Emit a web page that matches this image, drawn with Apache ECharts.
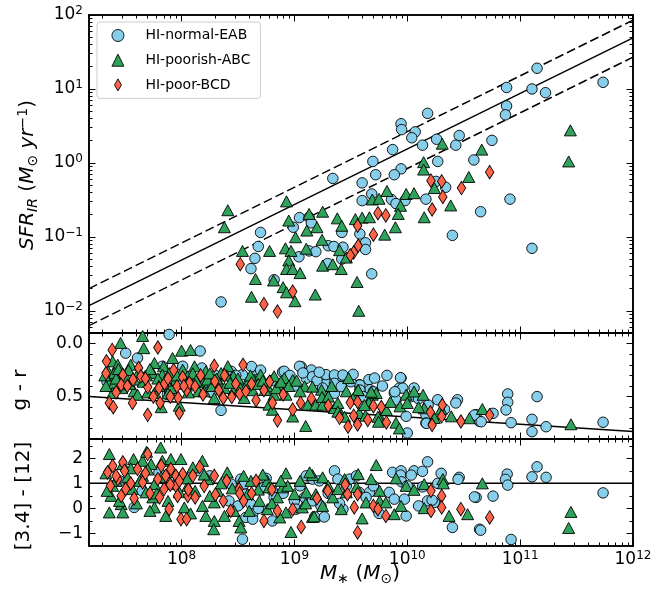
<!DOCTYPE html>
<html><head><meta charset="utf-8">
<script src="https://cdn.jsdelivr.net/npm/echarts@6/dist/echarts.min.js"></script>
<style>html,body{margin:0;padding:0;background:#fff}#c{width:664px;height:598px}</style>
</head><body><div id="c"></div>
<script>
// ---------- data (log10 stellar mass, value) ----------
const sfrNormal = [[8.35,-1.88],[8.70,-0.94],[8.68,-1.13],[8.65,-1.29],[8.615,-1.43],[8.82,-1.58],[8.99,-0.87],[9.045,-0.74],[9.13,-0.735],[9.15,-0.81],[9.04,-1.27],[9.13,-1.19],[9.19,-1.20],[9.30,-1.12],[9.295,-1.36],[9.35,-1.13],[9.43,-1.14],[9.42,-0.94],[9.42,-1.30],[9.58,-0.96],[9.63,-1.08],[9.63,-1.17],[9.685,-1.50],[9.34,-0.21],[9.695,0.02],[9.72,-0.16],[9.60,-0.27],[9.87,0.18],[9.945,-0.08],[9.885,-0.16],[9.685,-0.42],[9.60,-0.51],[9.86,-0.495],[9.98,-0.51],[10.165,-0.49],[9.90,-0.55],[10.18,0.67],[9.945,0.53],[9.95,0.45],[10.07,0.42],[10.04,0.34],[10.135,0.24],[10.26,0.32],[10.46,0.37],[10.43,0.24],[10.75,0.305],[10.59,0.04],[10.27,0.02],[10.255,-0.25],[10.34,-0.33],[10.65,-0.66],[10.40,-0.98],[10.91,-0.49],[10.88,0.77],[10.87,0.65],[10.88,1.02],[11.15,1.28],[11.105,1.00],[11.225,0.95],[11.735,1.09],[11.105,-1.155]];
const sfrPoorish = [[8.41,-0.64],[8.38,-0.87],[8.93,-0.52],[9.25,-0.66],[9.13,-0.69],[8.95,-0.78],[9.11,-0.915],[9.20,-0.87],[9.38,-0.75],[9.42,-0.85],[9.54,-0.76],[9.60,-0.74],[9.665,-0.735],[9.69,-0.495],[9.75,-0.485],[9.82,-0.38],[9.99,-0.42],[10.06,-0.41],[9.94,-0.58],[9.92,-0.69],[9.895,-0.87],[9.80,-0.97],[10.15,-0.735],[10.145,0.01],[10.145,-0.09],[9.01,-1.005],[8.92,-1.155],[8.97,-1.19],[9.105,-1.16],[9.245,-1.04],[9.40,-1.18],[9.46,-1.28],[8.54,-1.19],[8.78,-1.19],[8.95,-1.32],[8.93,-1.435],[8.985,-1.435],[9.05,-1.49],[9.25,-1.39],[9.34,-1.37],[9.415,-1.435],[8.655,-1.57],[8.815,-1.59],[8.90,-1.68],[8.93,-1.75],[9.005,-1.87],[9.185,-1.78],[8.62,-1.81],[9.555,-1.61],[9.57,-2.0],[10.31,0.26],[10.66,0.18],[10.545,-0.19],[10.24,-0.34],[10.385,-0.575],[11.445,0.44],[11.43,0.02]];
const sfrPoor = [[8.52,-1.37],[8.73,-1.91],[8.85,-2.01],[8.985,-1.74],[9.56,-0.85],[9.565,-1.12],[9.525,-1.21],[9.495,-1.25],[9.74,-0.68],[9.81,-0.71],[9.70,-0.97],[10.73,-0.125],[10.21,-0.24],[10.305,-0.25],[10.48,-0.34],[10.315,-0.46],[10.22,-0.63]];

const grNormal = [[7.505,0.09],[8.165,0.07],[7.89,-0.086],[7.61,0.136],[7.375,0.41],[8.35,0.63],[7.875,0.48],[8.62,0.216],[8.895,0.268],[9.06,0.218],[9.15,0.249],[9.105,0.327],[9.16,0.312],[9.28,0.375],[7.895,0.466],[8.25,0.42],[7.83,0.214],[8.54,0.293],[8.675,0.293],[8.265,0.461],[8.01,0.214],[8.91,0.261],[9.045,0.214],[9.075,0.277],[9.28,0.293],[9.355,0.308],[9.415,0.308],[9.405,0.403],[9.34,0.46],[9.575,0.388],[9.66,0.34],[9.71,0.325],[9.67,0.435],[9.945,0.325],[9.885,0.466],[9.93,0.419],[10.06,0.419],[9.99,0.686],[10.0,0.843],[10.165,0.67],[10.165,0.749],[10.27,0.53],[10.445,0.53],[10.43,0.56],[10.61,0.67],[10.64,0.733],[9.355,0.296],[9.355,0.375],[9.355,0.469],[9.43,0.296],[9.415,0.406],[9.58,0.391],[9.58,0.438],[9.61,0.50],[9.70,0.454],[9.90,0.532],[9.96,0.42],[10.035,0.50],[10.17,0.752],[10.185,0.579],[10.595,0.674],[10.655,0.737],[10.76,0.658],[10.89,0.475],[10.89,0.554],[10.875,0.626],[10.92,0.746],[11.105,0.714],[11.105,0.831],[11.23,0.784],[11.15,0.50],[11.735,0.742],[9.89,0.454],[9.94,0.322],[8.44,0.261],[8.675,0.34],
  [7.34,0.36],[7.45,0.28],[7.70,0.30],[7.98,0.36],[8.08,0.40],[8.18,0.23],[8.30,0.30],[8.48,0.30],[8.58,0.40],[8.70,0.25],[8.80,0.35],[8.96,0.30],[9.0,0.40],[9.20,0.35],[9.25,0.42],[9.50,0.36],[9.78,0.40],[9.82,0.30],[10.10,0.52],[10.33,0.62],[9.52,0.29],[9.22,0.27]];
const grPoorish = [[7.46,-0.006],[7.655,-0.072],[7.665,0.043],[8.0,0.067],[8.08,0.06],[7.92,0.136],[7.84,0.214],[7.39,0.167],[7.435,0.199],[7.55,0.199],[7.76,0.183],[8.115,0.214],[8.215,0.261],[8.41,0.213],[8.35,0.277],[8.46,0.308],[8.82,0.308],[7.35,0.261],[7.405,0.277],[7.36,0.372],[7.405,0.372],[7.58,0.34],[7.505,0.308],[7.745,0.277],[7.83,0.293],[7.89,0.277],[7.935,0.372],[8.01,0.246],[8.185,0.365],[8.23,0.34],[8.335,0.372],[8.055,0.308],[8.38,0.419],[8.585,0.372],[8.645,0.34],[8.70,0.293],[8.76,0.403],[8.865,0.388],[8.91,0.325],[7.39,0.466],[7.58,0.45],[7.61,0.482],[7.76,0.466],[7.905,0.419],[8.15,0.45],[8.20,0.45],[8.465,0.435],[8.82,0.482],[7.82,0.60],[7.98,0.586],[8.775,0.576],[8.805,0.624],[8.555,0.513],[8.29,0.513],[8.985,0.343],[9.09,0.403],[8.925,0.482],[8.985,0.688],[9.10,0.777],[9.12,0.576],[9.19,0.576],[9.25,0.576],[9.24,0.435],[9.245,0.504],[9.355,0.608],[9.40,0.639],[9.385,0.56],[9.46,0.45],[9.48,0.325],[9.565,0.44],[9.575,0.655],[9.63,0.68],[9.69,0.482],[9.725,0.466],[9.66,0.56],[9.755,0.686],[9.81,0.624],[9.90,0.746],[9.93,0.80],[9.935,0.592],[9.99,0.482],[10.06,0.452],[10.14,0.483],[10.15,0.61],[10.24,0.702],[10.39,0.686],[10.55,0.704],[10.665,0.617],[11.45,0.761],[9.385,0.642],[9.445,0.69],[9.74,0.69],[9.745,0.737],[9.565,0.438],[9.68,0.454],[9.815,0.626],[9.16,0.406],[8.74,0.438],
  [7.32,0.30],[7.33,0.40],[7.42,0.33],[7.44,0.24],[7.47,0.42],[7.53,0.25],[7.54,0.38],[7.62,0.27],[7.66,0.36],[7.69,0.30],[7.70,0.46],[7.72,0.24],[7.79,0.33],[7.80,0.40],[7.86,0.35],[7.88,0.47],[7.96,0.30],[8.04,0.38],[8.06,0.46],[8.10,0.28],[8.13,0.35],[8.25,0.28],[8.27,0.40],[8.31,0.33],[8.40,0.30],[8.43,0.37],[8.50,0.33],[8.52,0.42],[8.61,0.30],[8.63,0.44],[8.68,0.38],[8.72,0.35],[8.84,0.42],[8.88,0.36],[8.95,0.40],[9.02,0.35],[9.05,0.45],[9.30,0.50],[9.33,0.40],[9.52,0.52],[9.62,0.58],[9.85,0.55],[10.0,0.56],[10.1,0.60],[10.3,0.62]];
const grPoor = [[7.335,0.167],[7.385,0.06],[7.79,0.037],[7.48,0.296],[7.465,0.39],[7.62,0.23],[7.64,0.308],[7.70,0.41],[7.80,0.42],[7.85,0.378],[7.93,0.25],[8.01,0.318],[7.96,0.403],[8.045,0.44],[8.07,0.372],[8.12,0.403],[8.29,0.21],[8.295,0.356],[8.37,0.513],[8.445,0.504],[8.515,0.475],[8.545,0.20],[8.73,0.44],[8.66,0.534],[8.805,0.56],[8.85,0.724],[7.36,0.56],[7.395,0.60],[7.565,0.56],[7.70,0.672],[7.81,0.56],[7.98,0.657],[7.97,0.513],[8.985,0.622],[9.055,0.56],[9.30,0.586],[9.495,0.556],[9.56,0.551],[9.525,0.68],[9.475,0.784],[9.56,0.763],[9.70,0.59],[9.77,0.598],[9.815,0.744],[10.205,0.648],[10.22,0.768],[10.31,0.579],[10.305,0.686],[10.475,0.735],[10.73,0.674],
  [7.33,0.28],[7.42,0.46],[7.52,0.40],[7.57,0.34],[7.68,0.33],[7.75,0.50],[7.88,0.33],[7.90,0.50],[8.02,0.40],[8.17,0.30],[8.19,0.48],[8.33,0.44],[8.38,0.30],[8.48,0.38],[8.57,0.45],[8.62,0.38],[8.78,0.36],[8.90,0.48],[9.15,0.52],[9.40,0.70],[9.65,0.72]];

const colNormal = [[7.58,0.04],[8.16,1.50],[8.54,-1.23],[8.525,1.17],[8.555,0.97],[8.44,0.97],[8.57,0.57],[8.615,0.17],[8.63,-0.23],[8.57,-0.36],[8.63,-0.43],[8.73,0.84],[8.805,0.70],[8.82,0.44],[8.805,-0.50],[7.80,1.44],[9.18,-0.34],[9.265,-0.34],[9.355,1.50],[9.87,1.44],[9.945,1.50],[10.06,1.50],[10.135,1.48],[10.18,1.86],[10.46,1.24],[10.40,-0.76],[10.61,0.44],[10.64,-0.83],[9.99,-0.30],[9.43,-0.03],[9.665,0.64],[9.84,0.64],[9.885,0.37],[9.975,0.37],[10.18,0.30],[10.24,0.24],[9.105,1.30],[9.16,1.17],[9.22,1.10],[9.09,0.44],[9.16,0.30],[9.235,0.10],[9.0,0.30],[9.015,-0.03],[9.385,1.17],[9.46,0.90],[9.575,0.64],[9.635,0.44],[9.49,1.17],[9.94,1.33],[9.95,1.06],[10.035,1.33],[10.27,1.0],[10.45,1.16],[10.595,0.46],[10.76,0.49],[10.65,-0.87],[10.92,-1.24],[10.885,1.37],[10.87,1.16],[10.89,0.93],[11.105,1.26],[11.15,1.66],[11.23,1.24],[11.735,0.62],[10.135,0.86],[10.22,0.33],
  [7.45,1.10],[7.65,0.70],[7.92,1.20],[8.25,1.30],[8.42,0.30],[8.50,0.10],[8.68,0.00],[8.75,1.20],[8.90,0.60],[9.05,0.90],[9.30,0.60],[9.40,0.20],[9.55,1.30],[9.70,0.90],[9.75,-0.20],[10.0,0.90],[10.10,0.10],[10.30,1.40]];
const colPoorish = [[7.36,2.17],[7.36,-0.16],[7.465,0.17],[7.48,-0.16],[7.39,0.90],[7.375,0.50],[7.48,1.77],[7.575,1.97],[7.655,1.90],[7.815,2.43],[7.83,1.90],[7.73,1.77],[7.905,1.97],[7.995,1.97],[8.185,1.90],[8.10,1.64],[7.52,1.24],[7.565,0.77],[7.655,1.30],[7.685,0.64],[7.745,0.44],[7.76,0.04],[7.86,-0.30],[7.76,0.97],[7.935,0.97],[8.055,0.90],[8.025,0.04],[8.185,0.10],[8.215,-0.30],[8.29,-0.50],[8.285,-0.83],[8.23,1.17],[8.32,0.70],[8.29,0.24],[8.405,1.44],[8.465,-0.10],[8.51,-0.50],[8.525,-0.76],[8.585,0.57],[8.615,1.10],[8.76,1.10],[8.775,0.84],[8.69,0.30],[8.76,-0.03],[8.85,0.44],[8.895,0.84],[7.69,2.26],[8.97,-0.94],[8.925,1.40],[9.16,1.33],[9.16,-0.34],[9.725,1.73],[9.135,1.44],[9.25,1.24],[9.565,1.37],[9.68,1.17],[9.445,1.17],[9.99,0.90],[10.15,0.97],[10.315,1.17],[8.94,0.90],[9.0,0.57],[9.105,0.64],[9.19,0.57],[9.34,0.44],[9.385,0.77],[9.46,0.64],[9.755,0.70],[9.755,0.30],[10.06,0.74],[9.81,0.24],[8.925,-0.16],[8.87,-0.36],[9.07,0.04],[9.175,-0.32],[9.25,0.10],[9.415,-0.03],[9.635,0.24],[9.885,-0.23],[9.945,0.10],[10.15,0.01],[10.37,-0.30],[10.535,-0.23],[10.665,1.0],[11.45,-0.14],[11.43,-0.78],[10.32,1.0],
  [7.33,1.40],[7.34,0.70],[7.42,1.10],[7.45,0.30],[7.55,1.60],[7.60,0.20],[7.63,1.10],[7.70,1.55],[7.72,-0.10],[7.78,0.60],[7.82,1.25],[7.88,0.30],[7.92,1.45],[7.98,0.65],[8.05,1.20],[8.08,-0.20],[8.12,0.70],[8.20,1.35],[8.25,0.50],[8.35,1.00],[8.38,-0.30],[8.45,0.80],[8.55,1.30],[8.60,-0.10],[8.68,0.75],[8.72,1.35],[8.80,0.20],[8.88,1.10],[9.05,1.10],[9.10,0.20],[9.30,0.90],[9.55,0.85],[9.60,-0.40],[9.90,1.20]];
const colPoor = [[7.70,2.17],[7.39,1.70],[7.345,1.44],[7.48,1.84],[7.435,1.17],[7.495,1.50],[7.505,0.77],[7.465,0.50],[7.61,1.57],[7.655,1.04],[7.79,1.17],[7.86,1.30],[7.905,1.57],[7.95,1.30],[8.01,1.37],[8.10,1.30],[7.845,0.77],[7.95,0.90],[7.805,0.44],[7.965,0.50],[8.055,0.50],[8.12,0.44],[7.89,-0.03],[7.995,-0.43],[8.045,-0.43],[8.29,1.30],[8.37,0.30],[8.435,-0.10],[8.51,0.77],[8.66,1.10],[8.73,-0.50],[8.85,-0.10],[8.985,-0.04],[9.06,-0.74],[8.515,0.60],[9.295,0.70],[9.47,0.57],[9.56,0.57],[9.53,0.04],[9.70,0.10],[9.74,-0.03],[9.81,-0.30],[9.56,-0.96],[10.21,0.70],[10.305,0.50],[10.21,-0.10],[10.305,0.04],[10.475,-0.03],[10.73,-0.36],
  [7.37,0.90],[7.42,1.30],[7.55,1.00],[7.58,0.40],[7.68,1.40],[7.72,0.60],[7.82,1.70],[7.90,0.95],[7.98,1.10],[8.06,0.75],[8.16,1.65],[8.20,0.90],[8.30,0.55],[8.40,1.10],[8.55,0.30],[8.62,0.60],[8.80,0.75],[9.20,0.40],[9.45,0.95]];

// fitted / reference lines (end points)
const sfrFit = [[7.18,-1.93],[12,1.69]];
const sfrFitHi = [[7.18,-1.70],[12,1.93]];
const sfrFitLo = [[7.18,-2.20],[12,1.43]];
const grFit = [[7.18,0.50],[12,0.83]];
const colRef = [[7.18,1],[12,1]];

// axis ranges and ticks
const xRange = [7.18, 12];
const xMajor = [8, 9, 10, 11, 12];
const sfrRange = [-2.3, 2];
const sfrMajor = [-2, -1, 0, 1, 2];
const grRange = [-0.1, 0.9];
const grMajor = [0.0, 0.5];
const grMinor = [0.1, 0.2, 0.3, 0.4, 0.6, 0.7, 0.8];
const colRange = [-1.5, 2.77];
const colMajor = [-1, 0, 1, 2];
const colMinor = [-0.5, 0.5, 1.5, 2.5];
const legendNames = ['HI-normal-EAB', 'HI-poorish-ABC', 'HI-poor-BCD'];

function logMinors(lo, hi, a, b) {
  const out = [];
  for (let n = lo; n <= hi; n++) for (let k = 2; k <= 9; k++) {
    const v = n + Math.log10(k);
    if (v > a && v < b) out.push(v);
  }
  return out;
}
const xMinor = logMinors(7, 11, xRange[0], xRange[1]);
const sfrMinor = logMinors(-3, 1, sfrRange[0], sfrRange[1]);

const FONT = 'DejaVu Sans';
const BLUE = '#87ceeb', GREEN = '#2fa35c', RED = '#ff6347';
const MAJ = 6.5, MIN = 3.5, SPINE = 1.6;

function powLabel(v) {
  const e = Math.round(v);
  return '{b|10}{s|' + (e < 0 ? '\u2212' + (-e) : e) + '}';
}
const powRich = {
  b: {fontFamily: FONT, fontSize: 17, lineHeight: 20, color: '#000'},
  s: {fontFamily: FONT, fontSize: 12, lineHeight: 12, verticalAlign: 'top', color: '#000'}
};

function xAx(grid, pos, ticks, len, labels) {
  return {
    type: 'value', gridIndex: grid, position: pos, min: xRange[0], max: xRange[1],
    axisLine: {show: true, onZero: false, lineStyle: {color: '#000', width: SPINE}},
    axisTick: {show: true, inside: true, length: len, customValues: ticks, lineStyle: {color: '#000', width: 1}},
    axisLabel: labels ? {show: true, customValues: ticks, margin: 4, formatter: powLabel, rich: powRich, color: '#000'} : {show: false},
    splitLine: {show: false}
  };
}
function yAx(grid, pos, range, ticks, len, labelFn, inverse) {
  return {
    type: 'value', gridIndex: grid, position: pos, min: range[0], max: range[1], inverse: !!inverse,
    axisLine: {show: true, onZero: false, lineStyle: {color: '#000', width: SPINE}},
    axisTick: {show: true, inside: true, length: len, customValues: ticks, lineStyle: {color: '#000', width: 1}},
    axisLabel: labelFn ? {show: true, customValues: ticks, margin: 6, formatter: labelFn,
      rich: powRich, fontFamily: FONT, fontSize: 17, color: '#000'} : {show: false},
    splitLine: {show: false}
  };
}

const xAxes = [];
for (let g = 0; g < 3; g++) {
  xAxes.push(xAx(g, 'bottom', xMajor, MAJ, g === 2));
  xAxes.push(xAx(g, 'bottom', xMinor, MIN, false));
  xAxes.push(xAx(g, 'top', xMajor, MAJ, false));
  xAxes.push(xAx(g, 'top', xMinor, MIN, false));
}
const grLabel = v => v.toFixed(1);
const colLabel = v => (v < 0 ? '\u2212' + Math.abs(v) : String(v));
const yAxes = [
  yAx(0, 'left', sfrRange, sfrMajor, MAJ, powLabel), yAx(0, 'left', sfrRange, sfrMinor, MIN),
  yAx(0, 'right', sfrRange, sfrMajor, MAJ), yAx(0, 'right', sfrRange, sfrMinor, MIN),
  yAx(1, 'left', grRange, grMajor, MAJ, grLabel, true), yAx(1, 'left', grRange, grMinor, MIN, null, true),
  yAx(1, 'right', grRange, grMajor, MAJ, null, true), yAx(1, 'right', grRange, grMinor, MIN, null, true),
  yAx(2, 'left', colRange, colMajor, MAJ, colLabel), yAx(2, 'left', colRange, colMinor, MIN),
  yAx(2, 'right', colRange, colMajor, MAJ), yAx(2, 'right', colRange, colMinor, MIN)
];

function line(data, ax, dashed) {
  return {type: 'line', data, xAxisIndex: ax, yAxisIndex: ax, symbol: 'none', silent: true, clip: true,
    lineStyle: {color: '#000', width: 1.5, type: dashed ? [9, 4] : 'solid'}, z: 2};
}
const styles = [
  {symbol: 'circle', symbolSize: 10.5, color: BLUE},
  {symbol: 'triangle', symbolSize: [12, 11], color: GREEN},
  {symbol: 'path://M4,0L8,7L4,14L0,7Z', symbolSize: [8.5, 13.5], color: RED}
];
function scat(i, data, ax) {
  const s = styles[i];
  return {type: 'scatter', name: legendNames[i], data, xAxisIndex: ax, yAxisIndex: ax,
    symbol: s.symbol, symbolSize: s.symbolSize, silent: true, clip: true,
    itemStyle: {color: s.color, borderColor: '#000', borderWidth: 0.9, opacity: 1}, z: 3};
}

const series = [
  line(sfrFit, 0), line(sfrFitHi, 0, true), line(sfrFitLo, 0, true),
  line(grFit, 4), line(colRef, 8),
  scat(0, sfrNormal, 0), scat(1, sfrPoorish, 0), scat(2, sfrPoor, 0),
  scat(0, grNormal, 4), scat(1, grPoorish, 4), scat(2, grPoor, 4),
  scat(0, colNormal, 8), scat(1, colPoorish, 8), scat(2, colPoor, 8)
];

const titleRich = {
  i: {fontFamily: FONT, fontSize: 20, fontStyle: 'italic', lineHeight: 24, color: '#000'},
  n: {fontFamily: FONT, fontSize: 20, lineHeight: 24, color: '#000'},
  sub: {fontFamily: FONT, fontSize: 14, fontStyle: 'italic', lineHeight: 10, verticalAlign: 'bottom', color: '#000'},
  subn: {fontFamily: FONT, fontSize: 14, lineHeight: 10, verticalAlign: 'bottom', color: '#000'},
  sup: {fontFamily: FONT, fontSize: 14, lineHeight: 10, verticalAlign: 'top', color: '#000'}
};
function gtext(x, y, rot, text) {
  return {type: 'text', x, y, rotation: rot, silent: true,
    style: {text, rich: titleRich, align: 'center', verticalAlign: 'middle', fontFamily: FONT, fontSize: 20, fill: '#000'}};
}

const chart = echarts.init(document.getElementById('c'), null, {renderer: 'canvas'});
chart.setOption({
  animation: false,
  backgroundColor: '#fff',
  textStyle: {fontFamily: FONT},
  grid: [
    {left: 89, top: 15, width: 544, height: 318},
    {left: 89, top: 333, width: 544, height: 106},
    {left: 89, top: 439, width: 544, height: 107}
  ],
  xAxis: xAxes,
  yAxis: yAxes,
  legend: {
    orient: 'vertical', left: 97, top: 22, selectedMode: false,
    padding: [6.5, 10, 6.5, 14.5], itemWidth: 12, itemHeight: 12, itemGap: 10.7,
    borderColor: '#cccccc', borderWidth: 1, borderRadius: 3, backgroundColor: 'rgba(255,255,255,0.8)',
    textStyle: {fontFamily: FONT, fontSize: 14, color: '#000', lineHeight: 12, padding: [0, 0, 0, 16.5]},
    data: [
      {name: legendNames[0], icon: 'circle', itemStyle: {color: BLUE, borderColor: '#000', borderWidth: 0.9}},
      {name: legendNames[1], icon: 'triangle', itemStyle: {color: GREEN, borderColor: '#000', borderWidth: 0.9}},
      {name: legendNames[2], icon: 'path://M4,0L8,7L4,14L0,7Z', itemStyle: {color: RED, borderColor: '#000', borderWidth: 0.9}}
    ]
  },
  graphic: [
    gtext(28, 175, Math.PI / 2, '{i|SFR}{sub|IR}{n| (}{i|M}{subn|\u2299}{n| }{i|yr}{sup|\u22121}{n|)}'),
    gtext(21, 390, Math.PI / 2, '{n|g - r}'),
    gtext(23.5, 496, Math.PI / 2, '{n|[3.4] - [12]}'),
    gtext(360, 574, 0, '{i|M}{subn|\u2217}{n| (}{i|M}{subn|\u2299}{n|)}')
  ],
  series
});
</script>
</body></html>
